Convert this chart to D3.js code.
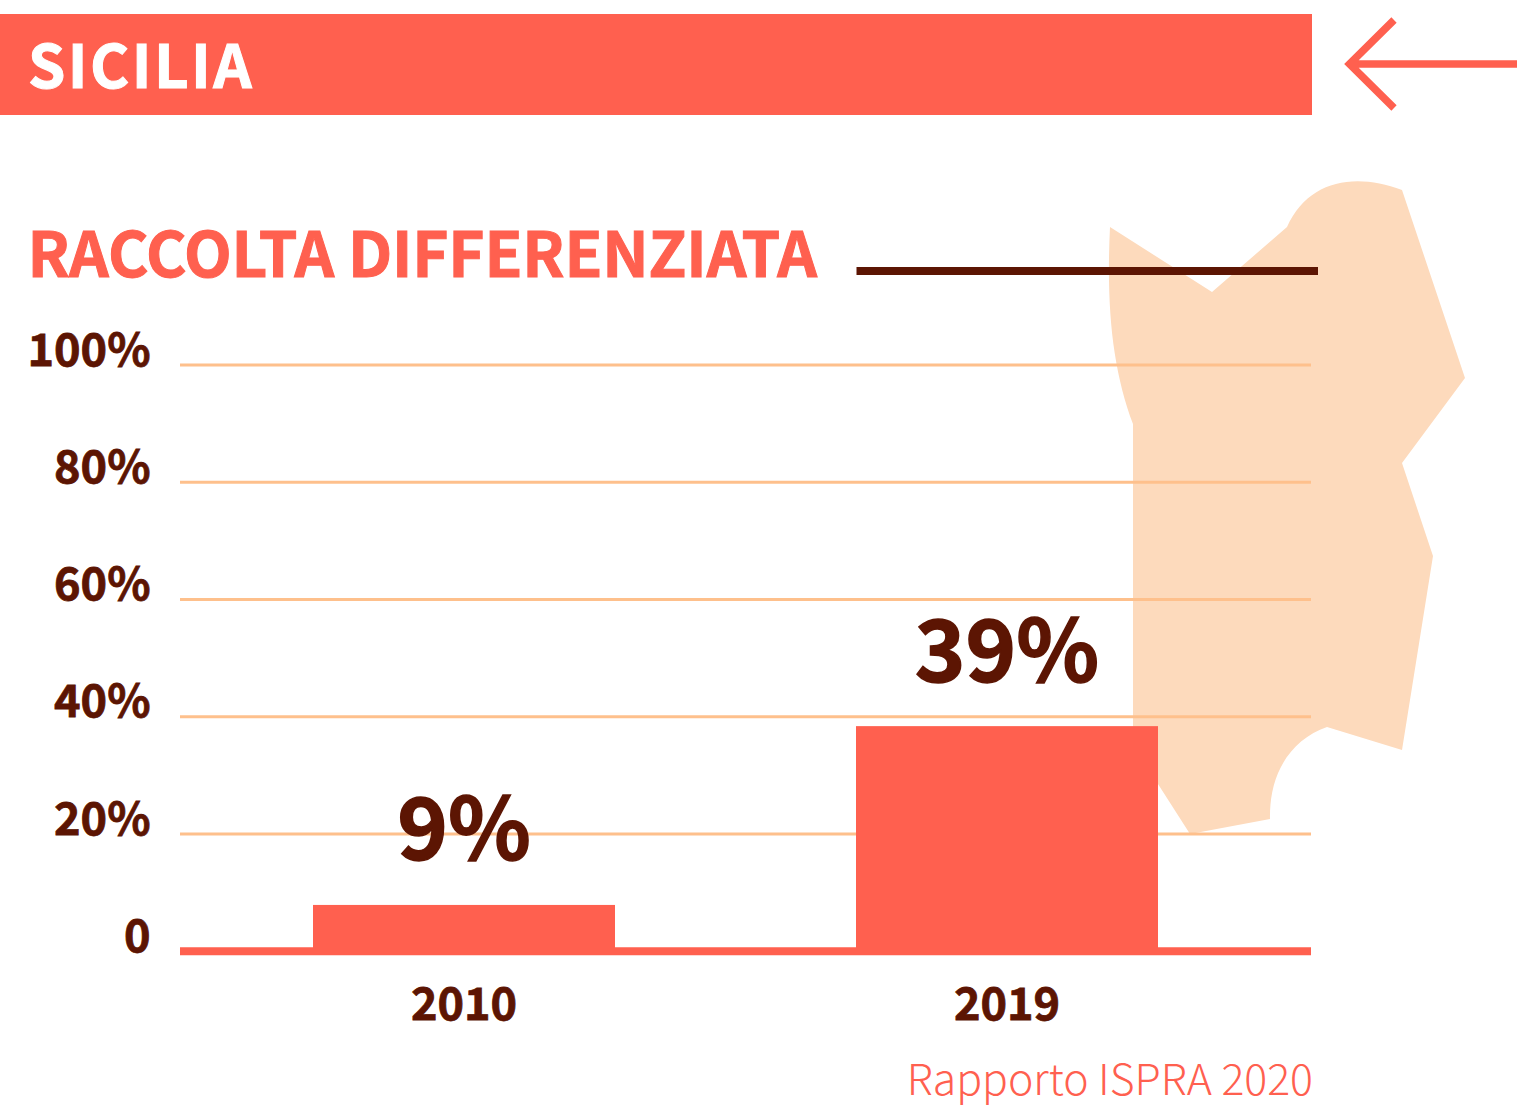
<!DOCTYPE html>
<html>
<head>
<meta charset="utf-8">
<script src="https://cdn.jsdelivr.net/npm/d3@7"></script>
<style>
    html, body { margin: 0; padding: 0; background: #fff; }
    svg { display: block; }
    text { font-family: "Noto Sans CJK JP", "Noto Sans", sans-serif; }
    .bold { font-weight: 700; }
</style>
</head>
<body>
<div id="chart"></div>
<script>
var years = ['2010', '2019'];
var barValues = [7.9, 38.4];
var barLabels = ['9%', '39%'];
var yTicks = [0, 20, 40, 60, 80, 100];
var regionName = 'SICILIA';
var chartTitle = 'RACCOLTA DIFFERENZIATA';
var source = 'Rapporto ISPRA 2020';

var coral = '#ff604f',
    brown = '#5c1503',
    grid = '#fec08c',
    mapFill = '#fddabc';

var width = 1517,
    height = 1105;

var svg = d3.select('#chart').append('svg')
    .attr('width', width)
    .attr('height', height);

var x = d3.scaleBand()
    .domain(years)
    .range([180, 1291])
    .paddingInner(241 / 543)
    .paddingOuter(133 / 543);

var y = d3.scaleLinear()
    .domain([0, 100])
    .range([951.25, 365]);

// region silhouette behind the plot
svg.append('path')
    .attr('fill', mapFill)
    .attr('d', 'M1110,227 L1212,292 L1287,227 C1308,180 1355,172 1402,190 L1465,378 L1402,463 L1433,556 L1402,750 L1327,727 C1292,739 1269,772 1270,819 L1190,834 L1133,745 L1133,424 C1113,370 1106,310 1110,227 Z');

// header
svg.append('rect')
    .attr('x', 0).attr('y', 14)
    .attr('width', 1312).attr('height', 101)
    .attr('fill', coral);

svg.append('text')
    .attr('class', 'bold')
    .attr('x', 28).attr('y', 88)
    .attr('font-size', 60)
    .attr('letter-spacing', 2.4)
    .attr('fill', '#fff')
    .attr('stroke', '#fff')
    .attr('stroke-width', 1)
    .text(regionName);

// back arrow
svg.append('path')
    .attr('fill', 'none')
    .attr('stroke', coral)
    .attr('stroke-width', 7.5)
    .attr('d', 'M1394,20 L1349.5,64 L1394,108 M1349.5,64 L1517,64');

// title and rule
svg.append('text')
    .attr('class', 'bold')
    .attr('x', 27.5).attr('y', 277)
    .attr('font-size', 62)
    .attr('letter-spacing', -0.2)
    .attr('fill', coral)
    .attr('stroke', coral)
    .attr('stroke-width', 1)
    .text(chartTitle);

svg.append('rect')
    .attr('x', 856.5).attr('y', 267)
    .attr('width', 461.5).attr('height', 8)
    .attr('fill', brown);

// gridlines
svg.selectAll('line.grid')
    .data(yTicks.filter(function (d) { return d > 0; }))
    .enter().append('line')
    .attr('class', 'grid')
    .attr('x1', 180).attr('x2', 1311)
    .attr('y1', function (d) { return y(d); })
    .attr('y2', function (d) { return y(d); })
    .attr('stroke', grid)
    .attr('stroke-width', 3);

// y labels
svg.selectAll('text.ytick')
    .data(yTicks)
    .enter().append('text')
    .attr('class', 'ytick bold')
    .attr('x', 150.5)
    .attr('y', function (d) { return y(d) + 0.5; })
    .attr('text-anchor', 'end')
    .attr('font-size', 45)
    .attr('fill', brown)
    .attr('stroke', brown)
    .attr('stroke-width', 0.8)
    .text(function (d) { return d === 0 ? '0' : d + '%'; });

// bars
svg.selectAll('rect.bar')
    .data(years)
    .enter().append('rect')
    .attr('class', 'bar')
    .attr('x', function (d) { return x(d); })
    .attr('y', function (d, i) { return y(barValues[i]); })
    .attr('width', x.bandwidth())
    .attr('height', function (d, i) { return y(0) - y(barValues[i]); })
    .attr('fill', coral);

// baseline
svg.append('line')
    .attr('x1', 180).attr('x2', 1311)
    .attr('y1', y(0)).attr('y2', y(0))
    .attr('stroke', coral)
    .attr('stroke-width', 8);

// value labels
svg.selectAll('text.value')
    .data(years)
    .enter().append('text')
    .attr('class', 'value bold')
    .attr('x', function (d) { return x(d) + x.bandwidth() / 2; })
    .attr('y', function (d, i) { return y(barValues[i]) - 44.5; })
    .attr('text-anchor', 'middle')
    .attr('font-size', 86)
    .attr('fill', brown)
    .attr('stroke', brown)
    .attr('stroke-width', 1.5)
    .text(function (d, i) { return barLabels[i]; });

// year labels
svg.selectAll('text.year')
    .data(years)
    .enter().append('text')
    .attr('class', 'year bold')
    .attr('x', function (d) { return x(d) + x.bandwidth() / 2; })
    .attr('y', 1020)
    .attr('text-anchor', 'middle')
    .attr('font-size', 45)
    .attr('fill', brown)
    .attr('stroke', brown)
    .attr('stroke-width', 0.8)
    .text(function (d) { return d; });

// source
svg.append('text')
    .attr('x', 1313).attr('y', 1095)
    .attr('text-anchor', 'end')
    .attr('font-size', 42.8)
    .attr('font-weight', 300)
    .attr('fill', coral)
    .text(source);
</script>
</body>
</html>
